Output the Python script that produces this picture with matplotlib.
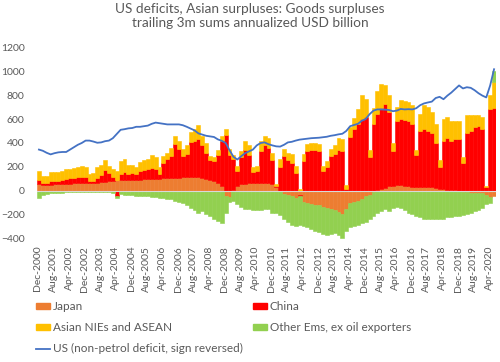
import numpy as np
import matplotlib
matplotlib.use("Agg")
import matplotlib.pyplot as plt
from matplotlib.patches import Patch
from matplotlib.lines import Line2D

plt.rcParams['font.family'] = ['Lato', 'DejaVu Sans']

# bimonthly readings, Dec-2000 .. Jun-2020 (each value covers two months)
japan = [
    55, 50, 47, 50, 55, 55,
    55, 60, 60, 65, 65, 65,
    65, 65, 70, 70, 75, 75,
    80, 85, 90, 95, 95, 95,
    95, 95, 95, 100, 100, 100,
    100, 100, 105, 105, 110, 110,
    110, 115, 115, 115, 115, 115,
    110, 100, 90, 80, 65, 40,
    -40, -50, 10, 40, 55, 60,
    65, 70, 70, 70, 70, 65,
    55, 30, 0, -25, -35, -40,
    -60, -30, -90, -100, -110, -115,
    -120, -130, -140, -150, -160, -175,
    -190, -150, -100, -90, -80, -70,
    -45, -30, -10, 5, 15, 25,
    40, 45, 50, 50, 45, 40,
    35, 35, 35, 35, 30, 30,
    25, 20, 15, 10, 10, 5,
    0, -5, -10, -15, -20, -20,
    -20, -30, -50, -40]

china = [
    35, 20, 23, 30, 30, 30,
    35, 40, 45, 45, 50, 55,
    50, 15, 15, 40, 55, 100,
    70, 30, -40, 50, 60, 50,
    55, 45, 75, 75, 80, 90,
    85, 45, 125, 160, 180, 280,
    240, 175, 195, 295, 305, 315,
    270, 220, 170, 170, 235, 380,
    470, 300, 260, 130, 225, 280,
    235, 90, 100, 260, 310, 295,
    200, 10, 200, 290, 260, 230,
    150, -15, 250, 330, 340, 340,
    330, 170, 200, 290, 310, 340,
    330, 20, 450, 520, 560, 600,
    620, 280, 560, 640, 680, 700,
    620, 285, 530, 550, 545, 540,
    525, 265, 465, 485, 470, 450,
    375, 180, 405, 430, 410, 425,
    430, 230, 480, 500, 530, 540,
    520, 30, 680, 690]

nies = [
    80, 55, 55, 75, 75, 75,
    75, 80, 80, 85, 85, 90,
    85, 65, 65, 90, 85, 85,
    60, 70, 80, 105, 115, 75,
    65, 60, 70, 85, 90, 110,
    95, 55, 60, 55, 70, 70,
    70, 60, 70, 80, 100, 120,
    80, 80, 30, 30, 40, 40,
    45, 50, 30, 40, 50, 80,
    80, 40, 40, 90, 80, 80,
    60, 20, 70, 60, 60, 80,
    60, 20, 60, 60, 60, 60,
    60, 40, 50, 60, 70, 100,
    100, 30, 80, 90, 120, 200,
    150, 60, 130, 190, 200, 160,
    140, 70, 120, 160, 160, 160,
    160, 40, 140, 200, 200, 180,
    160, 60, 180, 180, 160, 150,
    150, 50, 150, 130, 100, 90,
    100, 10, 120, 220]

other_ems = [
    -55, -35, -25, -20, -20, -15,
    -15, -10, -10, -10, -10, -10,
    -10, -5, -5, -5, -10, -10,
    -10, -15, -20, -25, -30, -35,
    -35, -40, -40, -45, -45, -50,
    -50, -55, -60, -65, -70, -80,
    -90, -100, -120, -140, -160, -180,
    -170, -190, -210, -230, -250, -265,
    -140, -40, -80, -110, -130, -150,
    -150, -160, -160, -160, -150, -150,
    -180, -180, -200, -205, -225, -240,
    -230, -235, -200, -200, -210, -215,
    -220, -230, -230, -210, -190, -195,
    -200, -180, -200, -200, -200, -200,
    -215, -200, -200, -180, -170, -150,
    -170, -140, -130, -140, -160, -180,
    -190, -210, -220, -230, -230, -230,
    -230, -230, -230, -220, -220, -210,
    -210, -195, -180, -165, -150, -140,
    -120, -80, -50, 90]

us_line = [
    345, 335, 318, 305, 315, 322,
    325, 325, 345, 365, 385, 400,
    420, 420, 412, 402, 405, 415,
    420, 440, 475, 510, 515, 522,
    525, 535, 535, 540, 545, 560,
    570, 565, 560, 555, 555, 555,
    555, 548, 535, 520, 505, 480,
    470, 460, 455, 450, 430, 418,
    400, 340, 285, 262, 290, 315,
    330, 345, 380, 400, 405, 390,
    380, 372, 370, 385, 405, 410,
    420, 428, 432, 436, 440, 442,
    444, 448, 452, 460, 465, 472,
    477, 500, 540, 550, 560, 585,
    600, 640, 670, 680, 680, 678,
    675, 665, 670, 684, 680, 682,
    680, 690, 715, 730, 738, 745,
    775, 785, 765, 795, 820, 850,
    880, 855, 865, 860, 840, 815,
    795, 780, 880, 1015]

tick_labels = ['Dec-2000', 'Aug-2001', 'Apr-2002', 'Dec-2002', 'Aug-2003', 'Apr-2004',
               'Dec-2004', 'Aug-2005', 'Apr-2006', 'Dec-2006', 'Aug-2007', 'Apr-2008',
               'Dec-2008', 'Aug-2009', 'Apr-2010', 'Dec-2010', 'Aug-2011', 'Apr-2012',
               'Dec-2012', 'Aug-2013', 'Apr-2014', 'Dec-2014', 'Aug-2015', 'Apr-2016',
               'Dec-2016', 'Aug-2017', 'Apr-2018', 'Dec-2018', 'Aug-2019', 'Apr-2020']

series = [('Japan', japan, '#ED7D31'),
          ('China', china, '#FF0000'),
          ('Asian NIEs and ASEAN', nies, '#FFC000'),
          ('Other Ems, ex oil exporters', other_ems, '#92D050')]

months = np.arange(len(japan)) * 2  # month index from Dec-2000

fig = plt.figure(figsize=(5, 3.62), dpi=100)
ax = fig.add_axes([0.074, 0.340, 0.918, 0.530])

pos_base = np.zeros(len(months))
neg_base = np.zeros(len(months))
for name, vals, col in series:
    v = np.array(vals, dtype=float)
    bottom = np.where(v >= 0, pos_base, neg_base)
    ax.bar(months, v, width=2, bottom=bottom, align='edge', color=col,
           edgecolor=col, linewidth=0.4)
    pos_base = pos_base + np.where(v >= 0, v, 0)
    neg_base = neg_base + np.where(v < 0, v, 0)

ax.axhline(0, color='#d9d9d9', lw=0.8, zorder=3)
ax.plot(months + 1, us_line, color='#4472C4', lw=1.3, zorder=4)

ax.set_xlim(0, 236)
ax.set_ylim(-400, 1200)
ax.set_yticks(range(-400, 1201, 200))
ax.set_xticks(np.arange(len(tick_labels)) * 8 + 0.5)
ax.set_xticklabels(tick_labels, rotation=90)
ax.tick_params(axis='both', length=0, labelsize=7.5, colors='#595959')
ax.tick_params(axis='y', pad=9)
ax.tick_params(axis='x', pad=5)
for s in ax.spines.values():
    s.set_visible(False)

fig.text(0.5, 0.992, 'US deficits, Asian surpluses: Goods surpluses\ntrailing 3m sums annualized USD billion',
         ha='center', va='top', fontsize=9.8, color='#595959', linespacing=1.25)

left_h = [Patch(color='#ED7D31'), Patch(color='#FFC000'), Line2D([], [], color='#4472C4', lw=1.3)]
left_l = ['Japan', 'Asian NIEs and ASEAN', 'US (non-petrol deficit, sign reversed)']
right_h = [Patch(color='#FF0000'), Patch(color='#92D050')]
right_l = ['China', 'Other Ems, ex oil exporters']
for h, l, x0 in [(left_h, left_l, 0.072), (right_h, right_l, 0.506)]:
    fig.legend(h, l, loc='upper left', bbox_to_anchor=(x0, 0.168), frameon=False,
               fontsize=8.5, handlelength=1.2, handleheight=0.45, handletextpad=0.2,
               labelspacing=0.85, borderpad=0, borderaxespad=0, labelcolor='#595959')

fig.savefig('out.png', dpi=100)
